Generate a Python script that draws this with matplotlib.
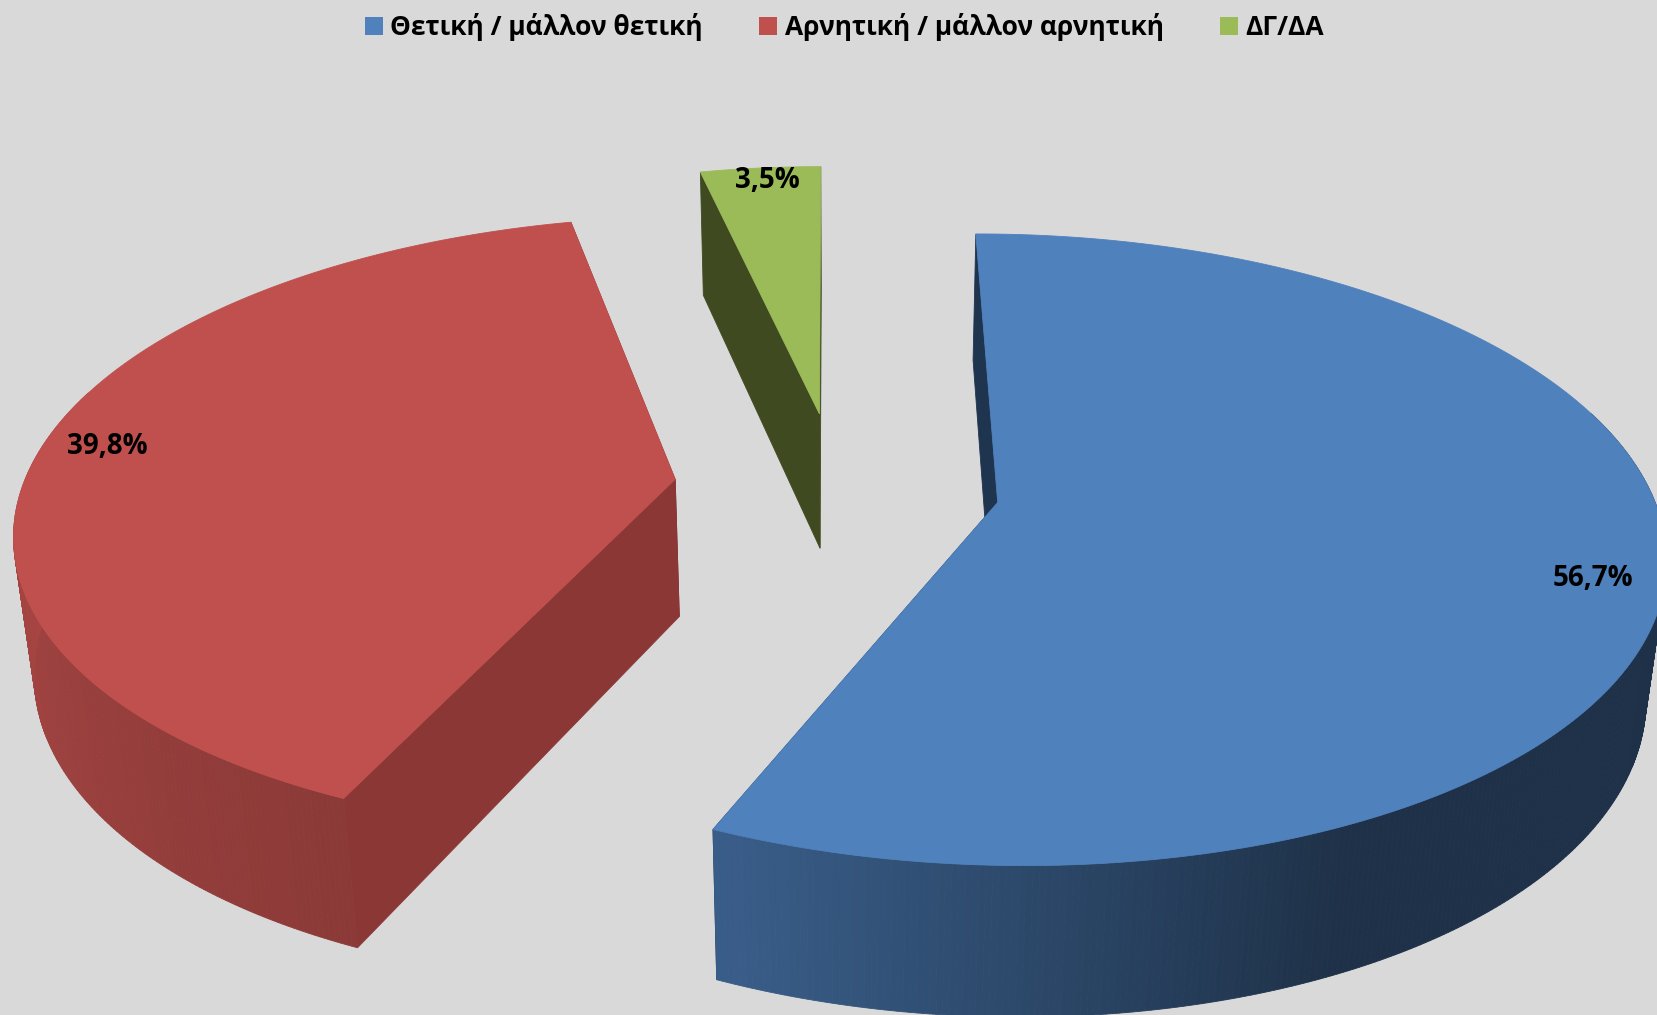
import numpy as np
import matplotlib
matplotlib.use("Agg")
import matplotlib.pyplot as plt
from matplotlib.patches import Polygon, Patch

# --- data
categories = ["Θετική / μάλλον θετική", "Αρνητική / μάλλον αρνητική", "ΔΓ/ΔΑ"]
values = [56.7, 39.8, 3.5]
value_labels = ["56,7%", "39,8%", "3,5%"]

# --- style
top_colors = ["#4F81BD", "#C0504D", "#9BBB59"]
wall_colors = ["#1F344F", "#8A3735", "#3F4A21"]
BG = "#D9D9D9"
FONT = "Open Sans"
W, H = 1657, 1015
S = W / 1568.0

# --- projection (pinhole-like view of a flat 3D pie)
VX, VY = 800.0, 475.0
A, B, C_Z = 622.0, 292.0, 134.0
K, M = 0.15, 0.025
CENTER = (-0.013, 0.05)
EXPLODE = 0.25
START_DEG = -0.2


def project(px, py, z):
    w = 1 + K * py - M * z
    return (VX + A * px / w) * S, (VY - (B * py + C_Z * z) / w) * S


def ring(cx, cy, theta, z):
    return np.column_stack(project(cx + np.sin(theta), cy + np.cos(theta), z))


def shade(deg):
    return np.interp(deg % 360, [0, 155, 202, 270, 360], [0.38, 0.38, 0.72, 0.875, 0.875])


def scaled(color, f):
    rgb = np.array(matplotlib.colors.to_rgb(color)) * f
    return tuple(rgb)


fig = plt.figure(figsize=(W / 100, H / 100), dpi=100, facecolor=BG)
ax = fig.add_axes([0, 0, 1, 1])
ax.set_xlim(0, W)
ax.set_ylim(H, 0)
ax.axis("off")

fractions = np.array(values) / sum(values)
edges = START_DEG + 360 * np.concatenate([[0], np.cumsum(fractions)])


def add_poly(pts, color, zorder):
    ax.add_patch(Polygon(pts, closed=True, fc=color, ec=color, lw=0.6, zorder=zorder))


for order, i in enumerate([2, 1, 0]):
    a0, a1 = edges[i], edges[i + 1]
    mid = np.radians((a0 + a1) / 2)
    cx = CENTER[0] + EXPLODE * np.sin(mid)
    cy = CENTER[1] + EXPLODE * np.cos(mid)
    base = 10 * order
    th = np.radians(np.linspace(a0, a1, max(8, int((a1 - a0) * 2))))
    apex_t = np.array(project(cx, cy, 0.0))
    apex_b = np.array(project(cx, cy, -1.0))
    # cut walls
    for ang in (th[0], th[-1]):
        t = ring(cx, cy, np.array([ang]), 0.0)[0]
        b = ring(cx, cy, np.array([ang]), -1.0)[0]
        add_poly([apex_t, t, b, apex_b], wall_colors[i], base + 1)
    # outer wall, shaded by facing direction
    for t0, t1 in zip(th[:-1], th[1:]):
        seg = np.array([t0, t1])
        f = shade(np.degrees((t0 + t1) / 2))
        if np.cos((t0 + t1) / 2) > 0.3:
            continue
        pts = np.vstack([ring(cx, cy, seg, 0.0), ring(cx, cy, seg[::-1], -1.0)])
        add_poly(pts, scaled(top_colors[i], f), base + 2)
    # top
    add_poly(np.vstack([[apex_t], ring(cx, cy, th, 0.0)]), top_colors[i], base + 5)

# value labels
label_xy = [(1593, 578), (107, 447), (767, 180)]
for txt, (x, y) in zip(value_labels, label_xy):
    ax.text(x, y, txt, ha="center", va="center", fontsize=20, fontweight="bold",
            family=FONT, color="black", zorder=50)

# legend
handles = [Patch(fc=c, ec=c, lw=0) for c in top_colors]
ax.legend(handles, categories, loc="center", bbox_to_anchor=(844.5 / W, 1 - 27 / H),
          ncols=3, frameon=False, handlelength=0.68, handleheight=0.67, handletextpad=0.28,
          columnspacing=2.15, prop={"family": FONT, "weight": "bold", "size": 19},
          labelcolor="black", borderpad=0, borderaxespad=0)

fig.savefig("out.png", dpi=100, facecolor=BG)
